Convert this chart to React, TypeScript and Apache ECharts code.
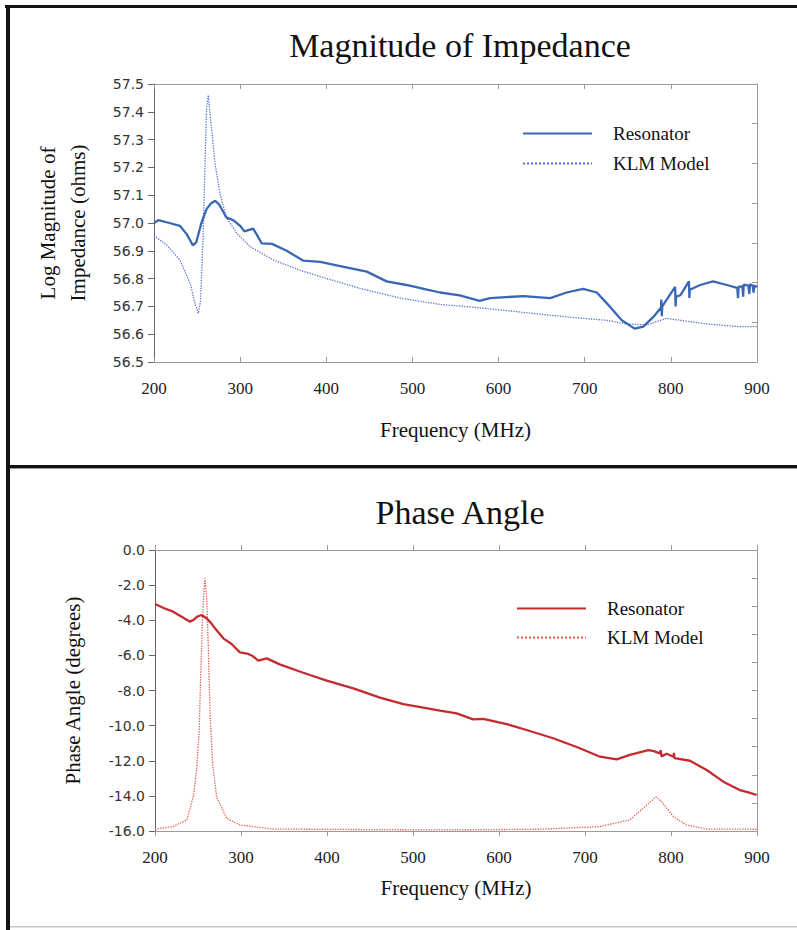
import React, { useEffect, useRef } from "react";
import * as echarts from "echarts";

// ---------- Data: Magnitude of Impedance ----------
const magResFreq = [200,205,218,230,238,245,249,255,261,266,271,276,284,292,300,305,315,319,325,337,354,373,393,416,447,470,493,517,532,555,578,590,629,660,679,698,714,729,743,758,768,780,788.5,789,789.5,790,805,805.5,806,811,821,821.5,822,834,849,865,877,878,878.5,883,884,884.5,890,891,892,895,896,897,900];
const magResVal = [57.00,57.01,57.00,56.99,56.96,56.92,56.93,57.00,57.05,57.07,57.08,57.065,57.02,57.01,56.99,56.97,56.98,56.96,56.927,56.925,56.90,56.865,56.86,56.845,56.825,56.79,56.777,56.76,56.75,56.74,56.72,56.73,56.737,56.73,56.75,56.763,56.75,56.70,56.65,56.62,56.627,56.663,56.695,56.725,56.665,56.70,56.77,56.70,56.735,56.74,56.79,56.73,56.76,56.777,56.79,56.777,56.767,56.73,56.77,56.772,56.735,56.778,56.775,56.745,56.78,56.775,56.75,56.775,56.77];

const magKlmFreq = [200,215,230,242,247.6,251.5,254,257,259,261,263,265.8,270.8,276.5,284,296,311.5,338.5,369.5,400.5,439,485.6,532,570.7,609.5,648,686.7,725.5,748.6,772,783.5,795,810.6,841.5,880,900];
const magKlmVal = [56.955,56.92,56.867,56.783,56.71,56.675,56.72,56.95,57.19,57.41,57.46,57.37,57.215,57.107,57.02,56.963,56.915,56.867,56.83,56.80,56.765,56.73,56.707,56.697,56.685,56.672,56.66,56.65,56.637,56.633,56.645,56.657,56.65,56.637,56.627,56.627];

// ---------- Data: Phase Angle ----------
const phaseResFreq = [200,210,221,231,240.7,244.5,249,254,260,265,269.8,279.4,289,298.8,308.5,314,320,329.9,345,372.4,399.6,430.6,461.6,488.8,512,531.4,550.8,570,581.7,609,632,663,694,717.4,736.8,752.3,773.6,780,787,788,789,795,802.7,803.5,804,822,841.5,860.8,880,890,899.6];
const phaseResVal = [-3.07,-3.3,-3.51,-3.8,-4.08,-3.99,-3.8,-3.70,-3.89,-4.15,-4.46,-5.03,-5.35,-5.83,-5.92,-6.05,-6.30,-6.17,-6.51,-6.99,-7.44,-7.88,-8.41,-8.77,-8.98,-9.15,-9.30,-9.64,-9.62,-9.91,-10.25,-10.72,-11.29,-11.77,-11.92,-11.67,-11.39,-11.45,-11.58,-11.4,-11.75,-11.6,-11.77,-11.55,-11.85,-12.0,-12.53,-13.19,-13.67,-13.8,-13.95];

const phaseKlmFreq = [200,221,237,244.5,248.4,251.4,253,255.4,258,260,262,264,267,271.6,283.4,298.8,337.5,531,648,717,752,772,782.6,789,803,818,841.5,900];
const phaseKlmVal = [-15.89,-15.75,-15.37,-14.05,-12.53,-10.25,-7.40,-3.61,-1.61,-2.66,-5.51,-9.30,-12.15,-14.05,-15.28,-15.66,-15.89,-15.94,-15.9,-15.75,-15.37,-14.52,-14.05,-14.33,-15.19,-15.66,-15.89,-15.9];

const freqTicks = { min: 200, max: 900, interval: 100 };
const legendNames = ["Resonator", "KLM Model"];

const serif = "'Liberation Serif', 'Times New Roman', serif";
const sans = "'DejaVu Sans', sans-serif";

const zip = (a: number[], b: number[]) => a.map((x, i) => [x, b[i]]);

type Cfg = {
  title: string;
  titleTop: number;
  gridLeft: number;
  gridTop: number;
  gridHeight: number;
  yMin: number;
  yMax: number;
  yInterval: number;
  rightSteps: number;
  yName: string;
  yNameGap: number;
  xNameGap: number;
  legendLeft: number;
  legendTop: number;
  legendGap: number;
  resColor: string;
  klmColor: string;
  res: number[][];
  klm: number[][];
  graphics: any[];
};

function buildOption(c: Cfg) {
  const frameColor = "#9a9a9a";
  const axisDark = "#666";
  return {
    animation: false,
    backgroundColor: "#fff",
    title: {
      text: c.title,
      left: 455,
      top: c.titleTop,
      textAlign: "center",
      textStyle: { fontFamily: serif, fontSize: 34, fontWeight: "normal", color: "#111" },
    },
    legend: {
      orient: "vertical",
      left: c.legendLeft,
      top: c.legendTop,
      itemWidth: 69,
      itemHeight: 14,
      itemGap: c.legendGap,
      selectedMode: false,
      data: legendNames,
      itemStyle: { opacity: 0 },
      textStyle: { fontFamily: serif, fontSize: 19, color: "#111", padding: [0, 0, 0, 16] },
    },
    grid: { left: c.gridLeft, right: 40, top: c.gridTop, height: c.gridHeight },
    xAxis: [
      {
        type: "value",
        ...freqTicks,
        position: "bottom",
        axisLine: { show: true, lineStyle: { color: frameColor } },
        axisTick: { show: true, inside: true, length: 5, lineStyle: { color: frameColor } },
        axisLabel: { fontFamily: serif, fontSize: 17, color: "#222", margin: 18 },
        splitLine: { show: false },
        name: "Frequency (MHz)",
        nameLocation: "middle",
        nameGap: c.xNameGap,
        nameTextStyle: { fontFamily: serif, fontSize: 21, color: "#111" },
      },
      {
        type: "value",
        ...freqTicks,
        position: "top",
        axisLine: { show: true, lineStyle: { color: frameColor } },
        axisTick: { show: true, inside: true, length: 5, lineStyle: { color: frameColor } },
        axisLabel: { show: false },
        splitLine: { show: false },
      },
    ],
    yAxis: [
      {
        type: "value",
        min: c.yMin,
        max: c.yMax,
        interval: c.yInterval,
        position: "left",
        axisLine: { show: true, lineStyle: { color: axisDark } },
        axisTick: { show: true, inside: false, length: 6, lineStyle: { color: axisDark } },
        axisLabel: {
          fontFamily: sans,
          fontSize: 14,
          color: "#333",
          margin: 10,
          formatter: (v: number) => v.toFixed(1),
        },
        splitLine: { show: false },
        name: c.yName,
        nameLocation: "middle",
        nameRotate: 90,
        nameGap: c.yNameGap,
        nameTextStyle: { fontFamily: serif, fontSize: 21, lineHeight: 30, color: "#111" },
      },
      {
        type: "value",
        min: 0,
        max: c.rightSteps,
        interval: 1,
        position: "right",
        axisLine: { show: true, lineStyle: { color: frameColor } },
        axisTick: { show: true, inside: true, length: 5, lineStyle: { color: frameColor } },
        axisLabel: { show: false },
        splitLine: { show: false },
      },
    ],
    series: [
      {
        type: "line",
        name: legendNames[0],
        xAxisIndex: 0,
        yAxisIndex: 0,
        data: c.res,
        symbol: "none",
        z: 3,
        lineStyle: { color: c.resColor, width: 2.3 },
        itemStyle: { color: c.resColor },
      },
      {
        type: "line",
        name: legendNames[1],
        xAxisIndex: 0,
        yAxisIndex: 0,
        data: c.klm,
        symbol: "none",
        z: 2,
        lineStyle: { color: c.klmColor, width: 1.3, type: "dotted" },
        itemStyle: { color: c.klmColor },
      },
    ],
    graphic: c.graphics,
  };
}

function Panel({ cfg, height }: { cfg: Cfg; height: number }) {
  const ref = useRef<HTMLDivElement>(null);
  useEffect(() => {
    if (!ref.current) return;
    const chart = echarts.init(ref.current, undefined, { renderer: "svg" });
    chart.setOption(buildOption(cfg));
    return () => chart.dispose();
  }, [cfg]);
  return <div ref={ref} style={{ width: 797, height }} />;
}

const topCfg: Cfg = {
  title: "Magnitude of Impedance",
  titleTop: 23,
  gridLeft: 154,
  gridTop: 84,
  gridHeight: 278,
  yMin: 56.5,
  yMax: 57.5,
  yInterval: 0.1,
  rightSteps: 7,
  yName: "Log Magnitude of\nImpedance (ohms)",
  yNameGap: 61,
  xNameGap: 57,
  legendLeft: 517,
  legendTop: 119,
  legendGap: 11,
  resColor: "#3a66b6",
  klmColor: "#5a6cd0",
  res: zip(magResFreq, magResVal),
  klm: zip(magKlmFreq, magKlmVal),
  graphics: [
    { type: "rect", shape: { x: 5, y: 5, width: 792, height: 3 }, style: { fill: "#111" } },
    { type: "rect", shape: { x: 6, y: 5, width: 4, height: 463 }, style: { fill: "#111" } },
    { type: "rect", shape: { x: 6, y: 465, width: 791, height: 3 }, style: { fill: "#111" } },
  ],
};

const bottomCfg: Cfg = {
  title: "Phase Angle",
  titleTop: 22,
  gridLeft: 155,
  gridTop: 82,
  gridHeight: 281,
  yMin: -16,
  yMax: 0,
  yInterval: 2,
  rightSteps: 10,
  yName: "Phase Angle (degrees)",
  yNameGap: 67,
  xNameGap: 46,
  legendLeft: 511,
  legendTop: 126,
  legendGap: 10,
  resColor: "#c42b2f",
  klmColor: "#e05a48",
  res: zip(phaseResFreq, phaseResVal),
  klm: zip(phaseKlmFreq, phaseKlmVal),
  graphics: [
    { type: "rect", shape: { x: 6, y: 0, width: 792, height: 1 }, style: { fill: "#999" } },
    { type: "rect", shape: { x: 6, y: 0, width: 4, height: 462 }, style: { fill: "#111" } },
    { type: "rect", shape: { x: 10, y: 458, width: 787, height: 1.5 }, style: { fill: "#c8c8c8" } },
  ],
};

export default function App() {
  return (
    <div style={{ position: "absolute", left: 0, top: 0, width: 797, height: 930, background: "#fff" }}>
      <Panel cfg={topCfg} height={468} />
      <Panel cfg={bottomCfg} height={462} />
    </div>
  );
}
